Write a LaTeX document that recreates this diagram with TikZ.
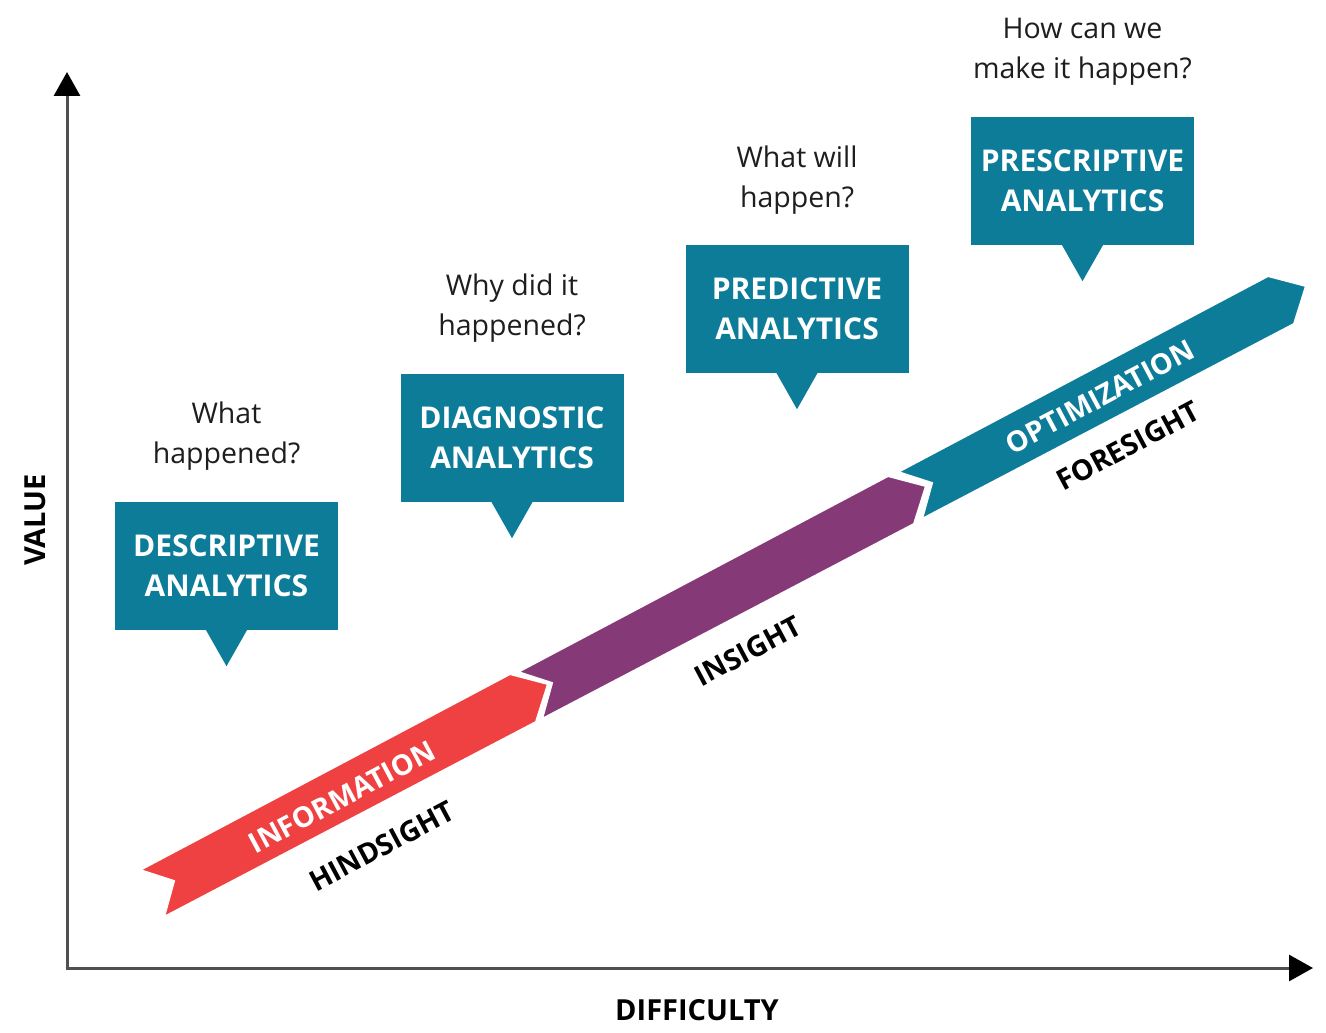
\documentclass[tikz,border=0pt]{standalone}
\usepackage{fontspec}
\setmainfont{Open Sans}
\usetikzlibrary{arrows.meta,calc}
\definecolor{tealc}{RGB}{13,124,153}
\definecolor{redc}{RGB}{240,65,66}
\definecolor{purplec}{RGB}{134,57,119}
\definecolor{axisc}{RGB}{80,80,80}
\definecolor{qtext}{RGB}{30,30,30}
\tikzset{
  box/.style={fill=tealc, minimum width=223pt, minimum height=128pt, inner sep=0pt,
    text=white, font=\fontsize{30}{40}\selectfont\bfseries, align=center},
  pointer/.style={fill=tealc},
  question/.style={font=\fontsize{28.5}{40}\selectfont, align=center, text=qtext, inner sep=0pt},
  bandlabel/.style={font=\fontsize{28.5}{30}\selectfont\bfseries, rotate=28, inner sep=0pt},
  axislabel/.style={font=\fontsize{29}{30}\selectfont\bfseries, inner sep=0pt},
  axis/.style={draw=axisc, line width=3pt, line cap=rect,
    -{Triangle[length=24pt,width=26pt,fill=black,color=black]}},
  segment/.style={draw=white, line width=2pt, line join=miter},
}
\begin{document}
\begin{tikzpicture}[x=1pt,y=-1pt]
\useasboundingbox (0,0) rectangle (1326,1033);
% axes
\coordinate (O) at (67,968);
\coordinate (ytip) at (67,72);
\coordinate (xtip) at (1313,968);
\draw[axis] (O) -- (ytip);
\draw[axis] (O) -- (xtip);
\node[axislabel] (xlabel) at (697,1010) {DIFFICULTY};
\node[axislabel, rotate=90] (ylabel) at (35,520) {VALUE};
% ribbon segments
\path[segment, fill=redc, shift={(140,870)}]
  (0,0) -- (370,-196) -- (408,-186) -- (396,-148) -- (24,47) -- (34,11) -- cycle;
\path[segment, fill=purplec, shift={(518,672)}]
  (0,0) -- (370,-196) -- (408,-186) -- (396,-148) -- (24,47) -- (34,11) -- cycle;
\path[segment, fill=tealc, shift={(898,472)}]
  (0,0) -- (370,-196) -- (408,-186) -- (396,-148) -- (24,47) -- (34,11) -- cycle;
% ribbon labels
\node[bandlabel, text=white] (info) at (342,797) {INFORMATION};
\node[bandlabel] (hind) at (382,846) {HINDSIGHT};
\node[bandlabel] (ins) at (748,651) {INSIGHT};
\node[bandlabel, text=white] (opt) at (1100,397) {OPTIMIZATION};
\node[bandlabel] (fore) at (1128,446) {FORESIGHT};
% boxes
\node[box] (desc) at (226.5,566) {DESCRIPTIVE\\ANALYTICS};
\node[box] (diag) at (512,438) {DIAGNOSTIC\\ANALYTICS};
\node[box] (pred) at (797,309) {PREDICTIVE\\ANALYTICS};
\node[box] (presc) at (1082.5,181) {PRESCRIPTIVE\\ANALYTICS};
\foreach \b in {desc,diag,pred,presc}{
  \fill[pointer] ($(\b.south)+(-21,-1)$) -- ($(\b.south)+(21,-1)$) -- ($(\b.south)+(0,36)$) -- cycle;
}
% questions
\node[question] (q1) at (226.5,436) {What\\happened?};
\node[question] (q2) at (512,308) {Why did it\\happened?};
\node[question] (q3) at (797,180) {What will\\happen?};
\node[question] (q4) at (1082.5,52) {How can we\\make it happen?};
\end{tikzpicture}
\end{document}
